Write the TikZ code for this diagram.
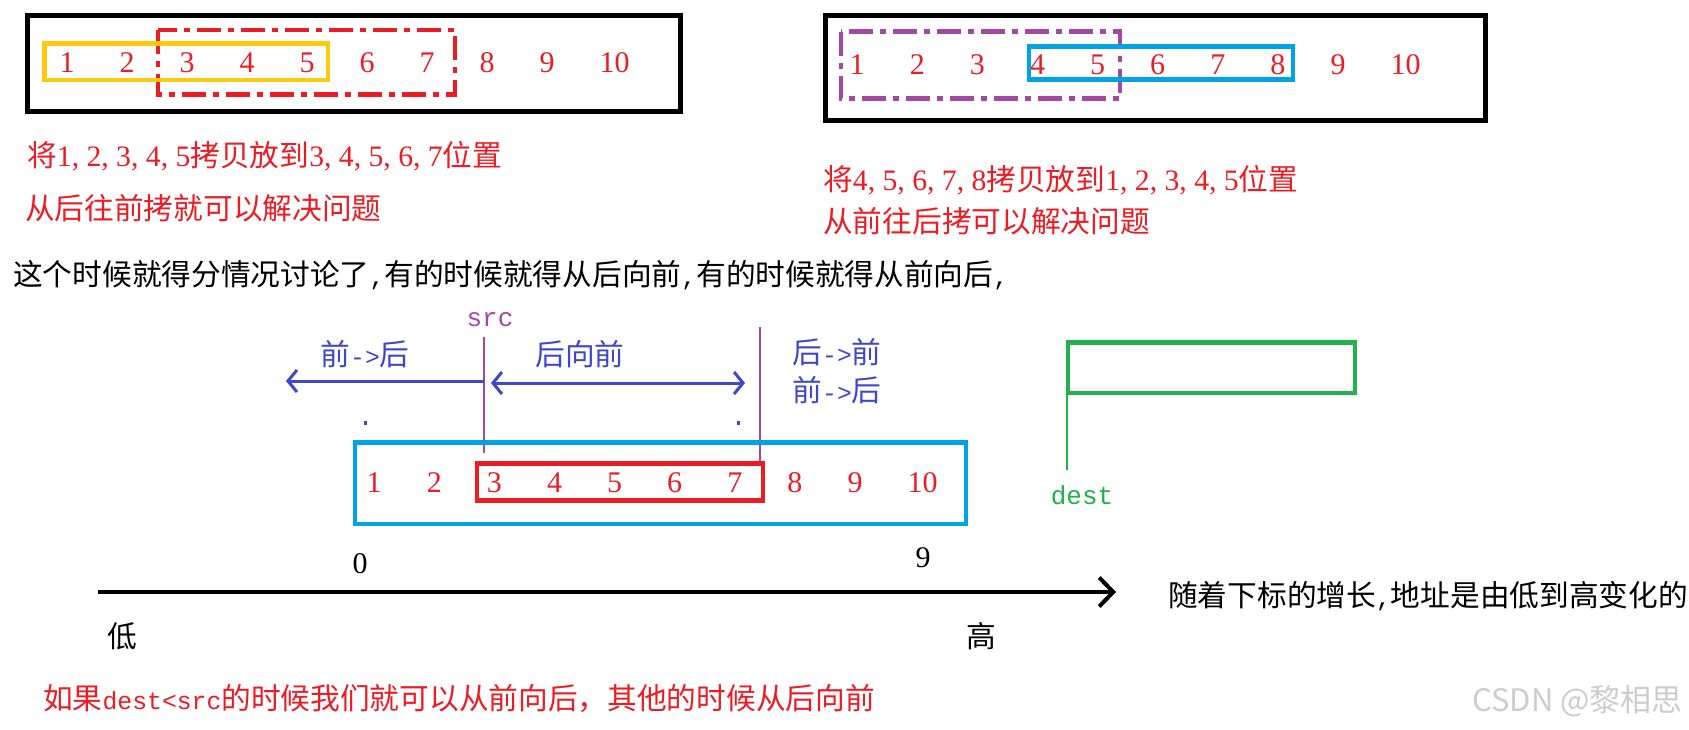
\documentclass[tikz,border=0pt]{standalone}
\usepackage{fontspec}
\setmainfont{Liberation Serif}
\newfontfamily\cjk{Noto Sans CJK SC}
\newfontfamily\monof{Liberation Mono}
\usetikzlibrary{arrows.meta}
\definecolor{pred}{RGB}{237,28,36}
\definecolor{pyellow}{RGB}{255,201,14}
\definecolor{ppurple}{RGB}{163,73,164}
\definecolor{pturq}{RGB}{0,162,232}
\definecolor{pindigo}{RGB}{63,72,204}
\definecolor{pgreen}{RGB}{34,177,76}
\definecolor{wmark}{RGB}{205,205,205}
\newcommand\hw[1]{{\monof\fontsize{24.75pt}{24.75pt}\selectfont #1}}
\newcommand\dg[1]{{\rmfamily\fontsize{29.7pt}{29.7pt}\selectfont #1}}
\newcommand\cmm{,\kern7.4pt}
\tikzset{
  numlbl/.style={text=pred, inner sep=0pt, anchor=west, font=\fontsize{30pt}{30pt}\selectfont},
  blacknum/.style={text=black, inner sep=0pt, font=\fontsize{30pt}{30pt}\selectfont},
  cntext/.style={inner sep=0pt, anchor=west, font=\cjk\fontsize{29.7pt}{29.7pt}\selectfont},
  cnc/.style={inner sep=0pt, font=\cjk\fontsize{29.7pt}{29.7pt}\selectfont},
  monolbl/.style={inner sep=0pt, font=\monof\fontsize{26pt}{26pt}\selectfont},
  boxblack/.style={draw=black, line width=5pt},
  boxyellow/.style={draw=pyellow, line width=4.5pt},
  boxred/.style={draw=pred, line width=4.5pt},
  boxpurple/.style={draw=ppurple, line width=4.5pt},
  boxturq/.style={draw=pturq, line width=4.5pt},
  boxgreen/.style={draw=pgreen, line width=4.5pt},
  dashdotpat/.style={dash pattern=on 24pt off 7pt on 6pt off 7pt},
  thinpurple/.style={draw=ppurple, line width=2.5pt},
  thingreen/.style={draw=pgreen, line width=2.5pt},
  bluearrow/.style={draw=pindigo, line width=3pt, -{Straight Barb[length=9pt,width=22pt]}},
  bluedouble/.style={draw=pindigo, line width=3pt, {Straight Barb[length=9pt,width=22pt]}-{Straight Barb[length=9pt,width=22pt]}},
  axisarrow/.style={draw=black, line width=4pt, -{Straight Barb[length=14pt,width=29pt]}},
}
\begin{document}
\begin{tikzpicture}[x=1pt,y=-1pt]
\useasboundingbox (0,0) rectangle (1689,729);
\fill[white] (0,0) rectangle (1689,729);

% ---------- top left panel ----------
\draw[boxblack] (27,15.5) rectangle (680,111.5);
\foreach \i in {1,...,10} \node[numlbl] (a\i) at ({59.5+60*(\i-1)},63) {\i};
\draw[boxred, dashdotpat] (158,30) rectangle (455,94.5);
\draw[boxyellow] (44.5,43.5) rectangle (328,80);
\node[cntext, text=pred] (tl1) at (27,156) {将\dg{1\cmm 2\cmm 3\cmm 4\cmm 5}拷贝放到\dg{3\cmm 4\cmm 5\cmm 6\cmm 7}位置};
\node[cntext, text=pred] (tl2) at (25,208) {从后往前拷就可以解决问题};

% ---------- top right panel ----------
\draw[boxblack] (825,15) rectangle (1485,120.5);
\foreach \i in {1,...,10} \node[numlbl] (b\i) at ({849.5+60.1*(\i-1)},65) {\i};
\draw[boxpurple, dashdotpat] (841,31.5) rectangle (1120,98.5);
\draw[boxturq] (1029,46.5) rectangle (1293,79.5);
\node[cntext, text=pred] (tr1) at (823,180) {将\dg{4\cmm 5\cmm 6\cmm 7\cmm 8}拷贝放到\dg{1\cmm 2\cmm 3\cmm 4\cmm 5}位置};
\node[cntext, text=pred] (tr2) at (823,221) {从前往后拷可以解决问题};

% ---------- main sentence ----------
\node[cntext, text=black] (main) at (13,275) {这个时候就得分情况讨论了\hw{,}有的时候就得从后向前\hw{,}有的时候就得从前向后\hw{,}};

% ---------- middle diagram ----------
\node[monolbl, text=ppurple] (src) at (490,320) {src};
\coordinate (srcTop) at (484,337);
\coordinate (srcBot) at (484,453);
\draw[thinpurple] (srcTop) -- (srcBot);
\coordinate (endTop) at (760,327);
\coordinate (endBot) at (760,463);
\draw[thinpurple] (endTop) -- (endBot);

\node[cnc, text=pindigo] (lf) at (365,354) {前\hw{->}后};
\node[cnc, text=pindigo] (hq) at (580,354) {后向前};
\node[cnc, text=pindigo] (rb) at (837,352) {后\hw{->}前};
\node[cnc, text=pindigo] (rf) at (837,390) {前\hw{->}后};

\coordinate (la0) at (484,381);
\coordinate (la1) at (286,381);
\draw[bluearrow] (la0) -- (la1);
\coordinate (da0) at (491,383);
\coordinate (da1) at (745,383);
\draw[bluedouble] (da0) -- (da1);
\fill[pindigo] (364,421) rectangle (367,425);
\fill[pindigo] (737,421) rectangle (740,425);

\draw[boxturq] (355,442.5) rectangle (966,524);
\foreach \i in {1,...,10} \node[numlbl] (c\i) at ({366.5+60.1*(\i-1)},483) {\i};
\draw[boxred] (477,463.5) rectangle (763,500.5);

\draw[boxgreen] (1068,342.5) rectangle (1355,393);
\coordinate (dTop) at (1067,393);
\coordinate (dBot) at (1067,470);
\draw[thingreen] (dTop) -- (dBot);
\node[monolbl, text=pgreen] (dest) at (1082,495) {dest};

% ---------- axis ----------
\node[blacknum] (zero) at (360,564) {0};
\node[blacknum] (nine) at (923,558) {9};
\coordinate (ax0) at (98,592);
\coordinate (ax1) at (1116,592);
\draw[axisarrow] (ax0) -- (ax1);
\node[cnc, text=black] (low) at (122,636) {低};
\node[cnc, text=black] (high) at (981,636) {高};
\node[cntext, text=black] (grow) at (1168,596) {随着下标的增长\hw{,}地址是由低到高变化的};

% ---------- bottom ----------
\node[cntext, text=pred] (concl) at (43,699) {如果\hw{dest<src}的时候我们就可以从前向后，其他的时候从后向前};
\node[inner sep=0pt, anchor=east, text=wmark, font=\cjk\fontsize{31pt}{31pt}\selectfont] (wm) at (1683,701) {CSDN @黎相思};
\end{tikzpicture}
\end{document}
